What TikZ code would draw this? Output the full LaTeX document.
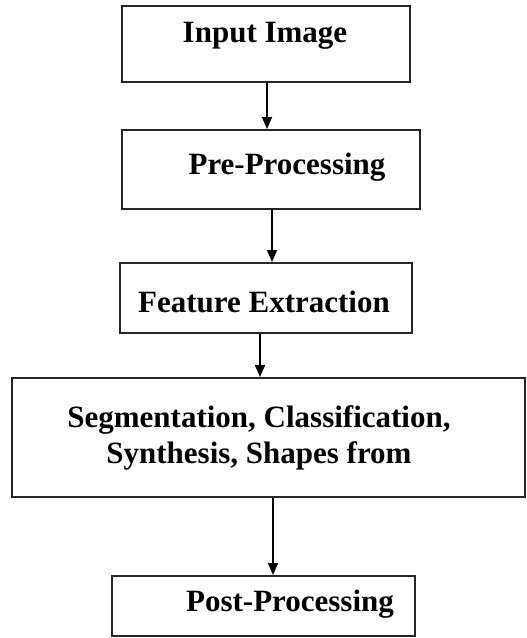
\documentclass[tikz,border=0pt]{standalone}
\usepackage{fontspec}
\setmainfont{Liberation Serif}
\usetikzlibrary{arrows.meta}
\begin{document}
\begin{tikzpicture}[x=1pt,y=1pt,
  blk/.style={draw=black!85, line width=2pt, inner sep=0pt, fill=white},
  lbl/.style={font=\fontsize{31}{36}\selectfont\bfseries, text=black, inner sep=0pt, align=center},
  arr/.style={line width=1.8pt, draw=black, -{Triangle[length=12pt,width=10pt]}}]
\useasboundingbox (0,0) rectangle (527,-638);
% process boxes
\node[blk, minimum width=288, minimum height=76] (b1) at (266,-44) {};
\node[blk, minimum width=298, minimum height=79] (b2) at (271,-169.5) {};
\node[blk, minimum width=292, minimum height=70] (b3) at (266,-298) {};
\node[blk, minimum width=513, minimum height=119] (b4) at (268,-437.5) {};
\node[blk, minimum width=303, minimum height=60] (b5) at (263.5,-606) {};
% labels
\node[lbl] (t1) at (265,-36) {Input Image};
\node[lbl] (t2) at (287,-167) {Pre-Processing};
\node[lbl] (t3) at (264,-302) {Feature Extraction};
\node[lbl] (t4) at (259,-438) {Segmentation, Classification,\\Synthesis, Shapes from};
\node[lbl] (t5) at (290,-604) {Post-Processing};
% connector columns
\coordinate (c1) at (267,0);
\coordinate (c2) at (272,0);
\coordinate (c3) at (260,0);
\coordinate (c4) at (273,0);
\draw[arr] (b1.south -| c1) -- (b2.north -| c1);
\draw[arr] (b2.south -| c2) -- (b3.north -| c2);
\draw[arr] (b3.south -| c3) -- (b4.north -| c3);
\draw[arr] (b4.south -| c4) -- (b5.north -| c4);
\end{tikzpicture}
\end{document}
